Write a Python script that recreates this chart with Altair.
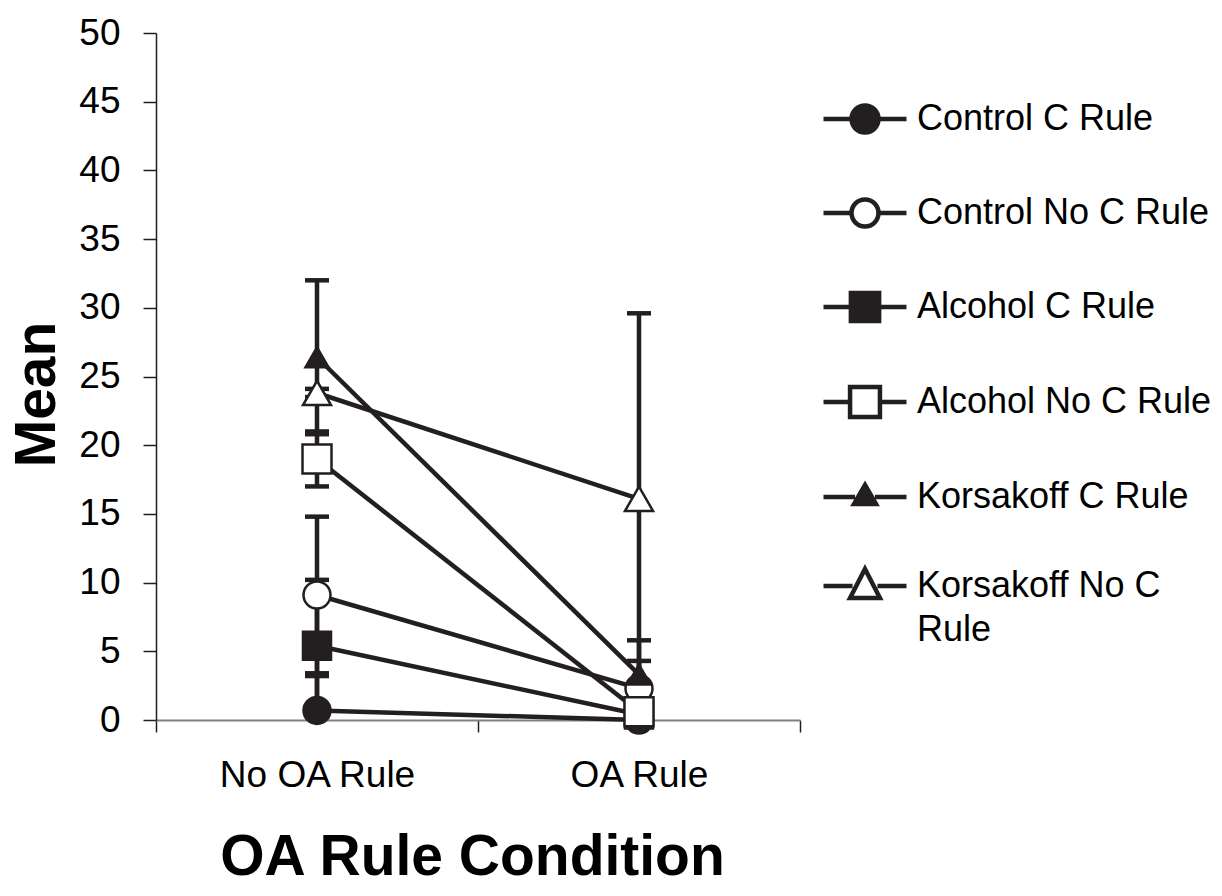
import altair as alt
import pandas as pd

series = ["Control C Rule", "Control No C Rule", "Alcohol C Rule",
          "Alcohol No C Rule", "Korsakoff C Rule", "Korsakoff No C Rule"]
conditions = ["No OA Rule", "OA Rule"]
mean_no_oa = [0.7, 9.1, 5.4, 19.0, 26.4, 23.8]
mean_oa = [0.0, 2.3, 0.4, 0.6, 3.3, 16.1]
err_no_oa = [2.5, 5.7, 4.8, 2.0, 5.6, 0.3]
err_oa = [0.0, 2.0, 0.3, 0.4, 2.5, 13.5]

shapes = ["circle", "circle", "square", "square", "triangle-up", "triangle-up"]
fills = ["#231f20", "white", "#231f20", "white", "#231f20", "white"]
sizes = [729, 729, 784, 841, 529, 784]

INK = "#231f20"

rows = []
for i, s in enumerate(series):
    for cond, m, e in ((conditions[0], mean_no_oa[i], err_no_oa[i]),
                       (conditions[1], mean_oa[i], err_oa[i])):
        rows.append({"series": s, "order": i, "condition": cond,
                     "mean": m, "low": m - e, "high": m + e})
df = pd.DataFrame(rows)

# legend symbols: line + marker, in unit coordinates (-1..1 spans the symbol width)
legend_paths = [
    "M-1,0L-0.33,0M0.33,0L1,0M-0.325,0A0.325,0.325,0,1,1,0.325,0A0.325,0.325,0,1,1,-0.325,0Z",
    "M-1,0L-0.33,0M0.33,0L1,0M-0.325,0A0.325,0.325,0,1,1,0.325,0A0.325,0.325,0,1,1,-0.325,0Z",
    "M-1,0L-0.34,0M0.34,0L1,0M-0.34,-0.34H0.34V0.34H-0.34Z",
    "M-1,0L-0.36,0M0.36,0L1,0M-0.36,-0.36H0.36V0.36H-0.36Z",
    "M-1,0L-0.24,0M0.24,0L1,0M0,-0.29L0.265,0.17L-0.265,0.17Z",
    "M-1,0L-0.3,0M0.3,0L1,0M0,-0.41L0.36,0.29L-0.36,0.29Z",
]

x_enc = alt.X(
    "condition:N",
    scale=alt.Scale(type="band", domain=conditions, paddingInner=0, paddingOuter=0),
    axis=alt.Axis(
        title="OA Rule Condition", labelAngle=0, tickBand="extent",
        domainColor="#808080", domainWidth=2, tickColor=INK, tickWidth=1.5,
        tickSize=12, labelFontSize=37, labelColor="black", labelLimit=500,
        labelBaseline="alphabetic", labelPadding=54,
        titleFontSize=57, titleFontWeight="bold", titleColor="black",
        titleX=316, titleY=154, titleAlign="center", titleBaseline="alphabetic",
    ),
)
y_scale = alt.Scale(domain=[0, 50], nice=False, zero=True)
y_enc = alt.Y(
    "mean:Q", scale=y_scale,
    axis=alt.Axis(
        title="Mean", values=list(range(0, 51, 5)), grid=False,
        tickSize=13, tickColor=INK, tickWidth=1.5, domainColor=INK, domainWidth=1.5,
        labelFontSize=37, labelColor="black", labelPadding=23,
        titleFontSize=57, titleFontWeight="bold", titleColor="black",
        titleX=-102, titleY=361, titleAlign="center", titleBaseline="alphabetic",
        titleAngle=270,
    ),
)

base = alt.Chart(df)

lines = base.mark_line(color=INK, strokeWidth=4.5).encode(
    x=x_enc, y=y_enc, detail="series:N", order="order:O")

bars = base.mark_rule(color=INK, strokeWidth=4.5, clip=True).encode(
    x=alt.X("condition:N"), y=alt.Y("low:Q", scale=y_scale), y2="high:Q")

caps_hi = base.mark_tick(color=INK, thickness=4.5, size=24, orient="horizontal",
                         clip=True, opacity=1).encode(
    x=alt.X("condition:N"), y=alt.Y("high:Q", scale=y_scale))
caps_lo = base.mark_tick(color=INK, thickness=4.5, size=24, orient="horizontal",
                         clip=True, opacity=1).encode(
    x=alt.X("condition:N"), y=alt.Y("low:Q", scale=y_scale))

point_layers = []
for i, s in enumerate(series):
    point_layers.append(
        base.transform_filter(alt.datum.series == s).mark_point(
            shape=shapes[i], fill=fills[i], filled=True, stroke=INK, strokeWidth=2.5,
            size=sizes[i], opacity=1,
        ).encode(x=alt.X("condition:N"), y=alt.Y("mean:Q", scale=y_scale))
    )

leg = dict(
    title=None, orient="none", legendX=665, legendY=42,
    symbolSize=6889, symbolStrokeWidth=4.5, symbolStrokeColor=INK, symbolOpacity=1,
    labelFontSize=36, labelColor="black", labelLimit=600, labelOffset=8,
    rowPadding=27, padding=0,
    labelExpr="datum.label == 'Korsakoff No C Rule' ? ['Korsakoff No C', 'Rule'] : datum.label",
)
legend_layer = base.transform_filter("false").mark_point(
    opacity=1, strokeWidth=4.5).encode(
    shape=alt.Shape("series:N", scale=alt.Scale(domain=series, range=legend_paths),
                    legend=alt.Legend(**leg)),
    fill=alt.Fill("series:N", scale=alt.Scale(domain=series, range=fills),
                  legend=alt.Legend(**leg)),
    stroke=alt.Stroke("series:N", scale=alt.Scale(domain=series, range=[INK] * len(series)),
                      legend=alt.Legend(**leg)),
)

chart = alt.layer(lines, bars, caps_hi, caps_lo, *point_layers, legend_layer).properties(
    width=644, height=687,
    autosize=alt.AutoSizeParams(type="none"),
    padding={"left": 148, "top": 25, "right": 414, "bottom": 165},
).configure(
    font="Liberation Sans",
    background="white",
    style={"guide-label": {"lineHeight": 44}},
).configure_view(stroke="transparent")

chart.save("out.html", embed_options={"renderer": "svg", "actions": False})
